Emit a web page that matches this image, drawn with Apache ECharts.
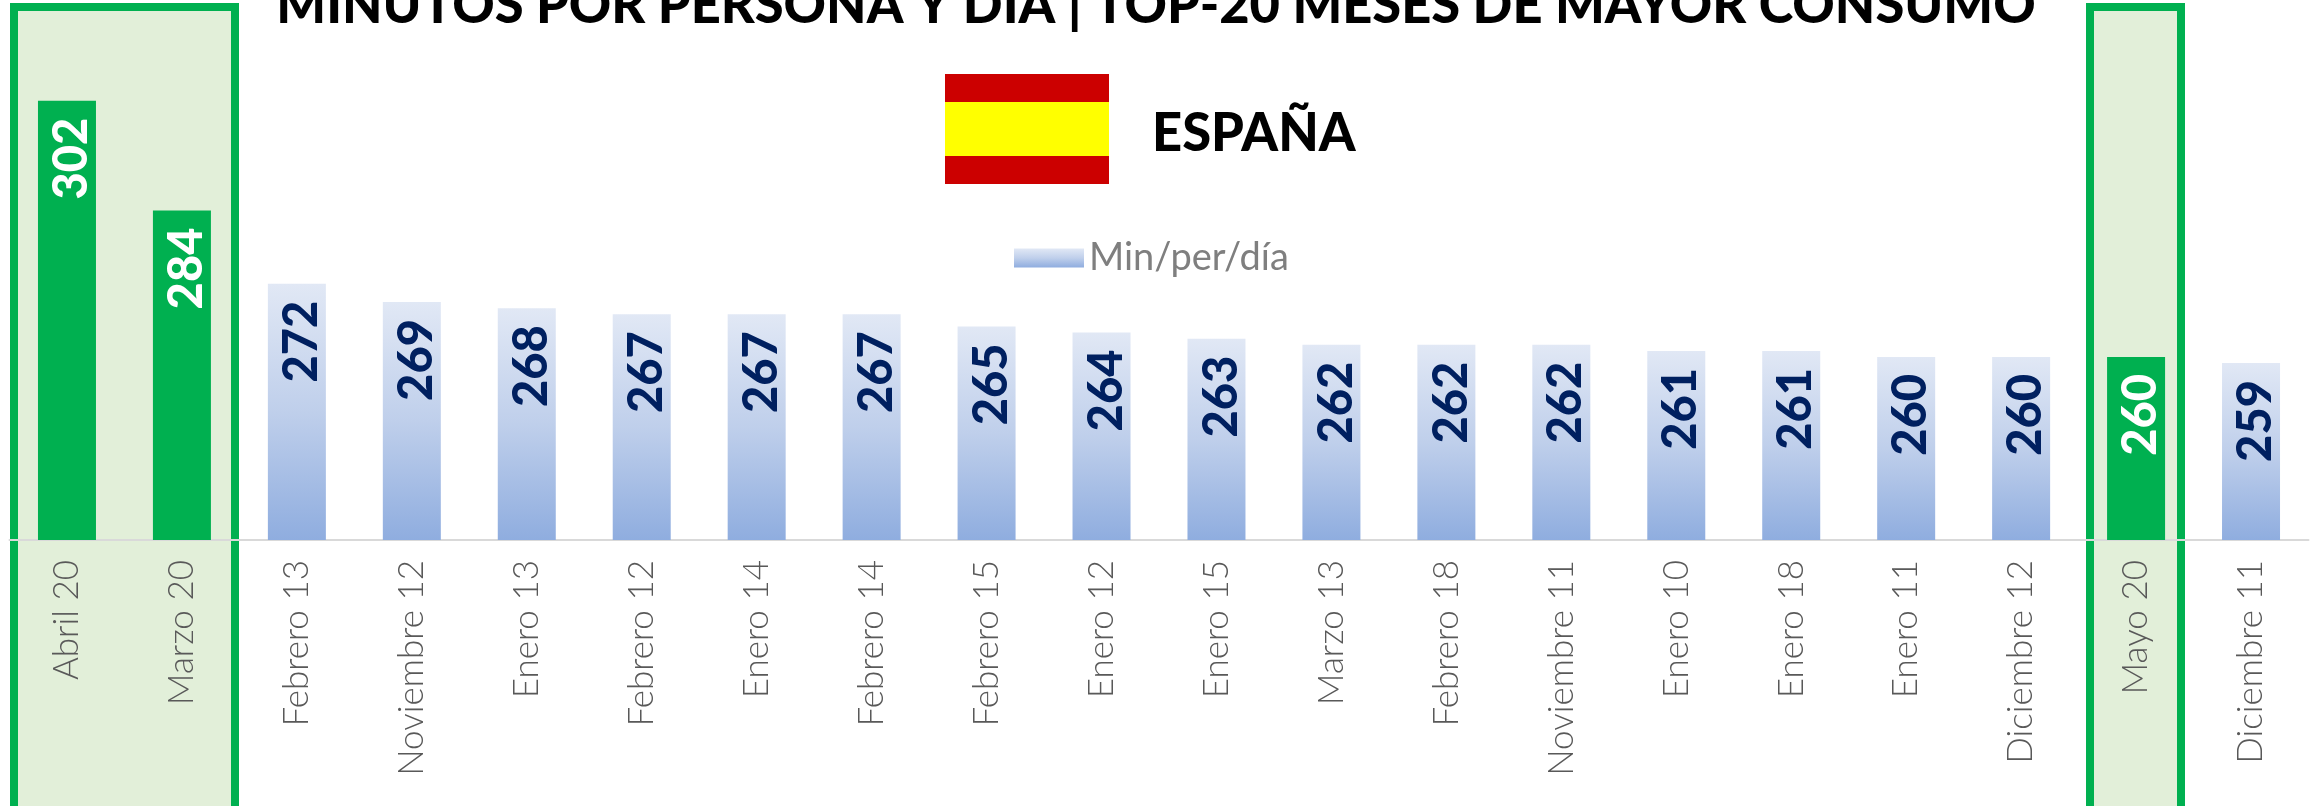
<!DOCTYPE html>
<html><head><meta charset="utf-8">
<style>html,body{margin:0;padding:0;background:#fff;overflow:hidden}#c{width:2310px;height:806px}</style>
<script src="https://cdn.jsdelivr.net/npm/echarts@6/dist/echarts.min.js"></script>
</head><body><div id="c"></div>
<script>
const titleText = 'MINUTOS POR PERSONA Y DÍA | TOP-20 MESES DE MAYOR CONSUMO';
const countryText = 'ESPAÑA';
const seriesName = 'Min/per/día';
const categories = ['Abril 20','Marzo 20','Febrero 13','Noviembre 12','Enero 13','Febrero 12','Enero 14','Febrero 14','Febrero 15','Enero 12','Enero 15','Marzo 13','Febrero 18','Noviembre 11','Enero 10','Enero 18','Enero 11','Diciembre 12','Mayo 20','Diciembre 11'];
const values = [302,284,272,269,268,267,267,267,265,264,263,262,262,262,261,261,260,260,260,259];
const highlighted = ['Abril 20','Marzo 20','Mayo 20'];

const GREEN = '#00B050', PALE = '#E2EFD9';
const font = 'Lato';
const box = (x, w) => ({type:'rect', z:-1, shape:{x:x+4, y:7, width:w-8, height:805},
  style:{fill:PALE, stroke:GREEN, lineWidth:8}, silent:true});
const band = (y,h,fill) => ({type:'rect', z:5, shape:{x:945,y,width:164,height:h}, style:{fill}, silent:true});

const chart = echarts.init(document.getElementById('c'), null, {renderer:'canvas'});
chart.setOption({
  animation:false,
  backgroundColor:'#fff',
  title:[
    {text:titleText, left:1151, textAlign:'center', top:-25, textStyle:{fontFamily:font, fontWeight:900, fontSize:52.4, color:'#000'}},
    {text:countryText, left:1147, top:103, textStyle:{fontFamily:font, fontWeight:900, fontSize:52.5, color:'#000'}}
  ],
  legend:{left:1009, top:234, itemWidth:70, itemHeight:19, itemGap:12, data:[seriesName],
    icon:'rect', textStyle:{fontFamily:font, fontSize:38, color:'#7F7F7F'}},
  grid:{left:9.5, right:1.5, top:52, height:488},
  xAxis:{type:'category', data:categories,
    axisLine:{show:true, lineStyle:{color:'#D9D9D9', width:2}},
    axisTick:{show:false},
    axisLabel:{rotate:90, interval:0, margin:20, padding:[4,0,0,0], fontFamily:font, fontWeight:300, fontSize:35, color:'#595959'}},
  yAxis:{type:'value', min:230, max:310, show:false, splitLine:{show:false}},
  series:[{
    type:'bar', name:seriesName, barWidth:58,
    itemStyle:{color:new echarts.graphic.LinearGradient(0,0,0,1,[
      {offset:0,color:'#E1E8F5'},{offset:0.5,color:'#BFCFEB'},{offset:1,color:'#8FADDF'}])},
    label:{show:true, position:'insideTop', distance:17, rotate:90, align:'right', verticalAlign:'middle',
      offset:[0,5], fontFamily:font, fontWeight:900, fontSize:47, color:'#002060'},
    data:values.map((v,i)=> highlighted.includes(categories[i])
      ? {value:v, itemStyle:{color:GREEN}, label:{color:'#fff'}}
      : v)
  }],
  graphic:[
    box(10,229), box(2086,99),
    band(74,28,'#CC0000'), band(102,54,'#FFFF00'), band(156,28,'#CC0000')
  ]
});
</script></body></html>
